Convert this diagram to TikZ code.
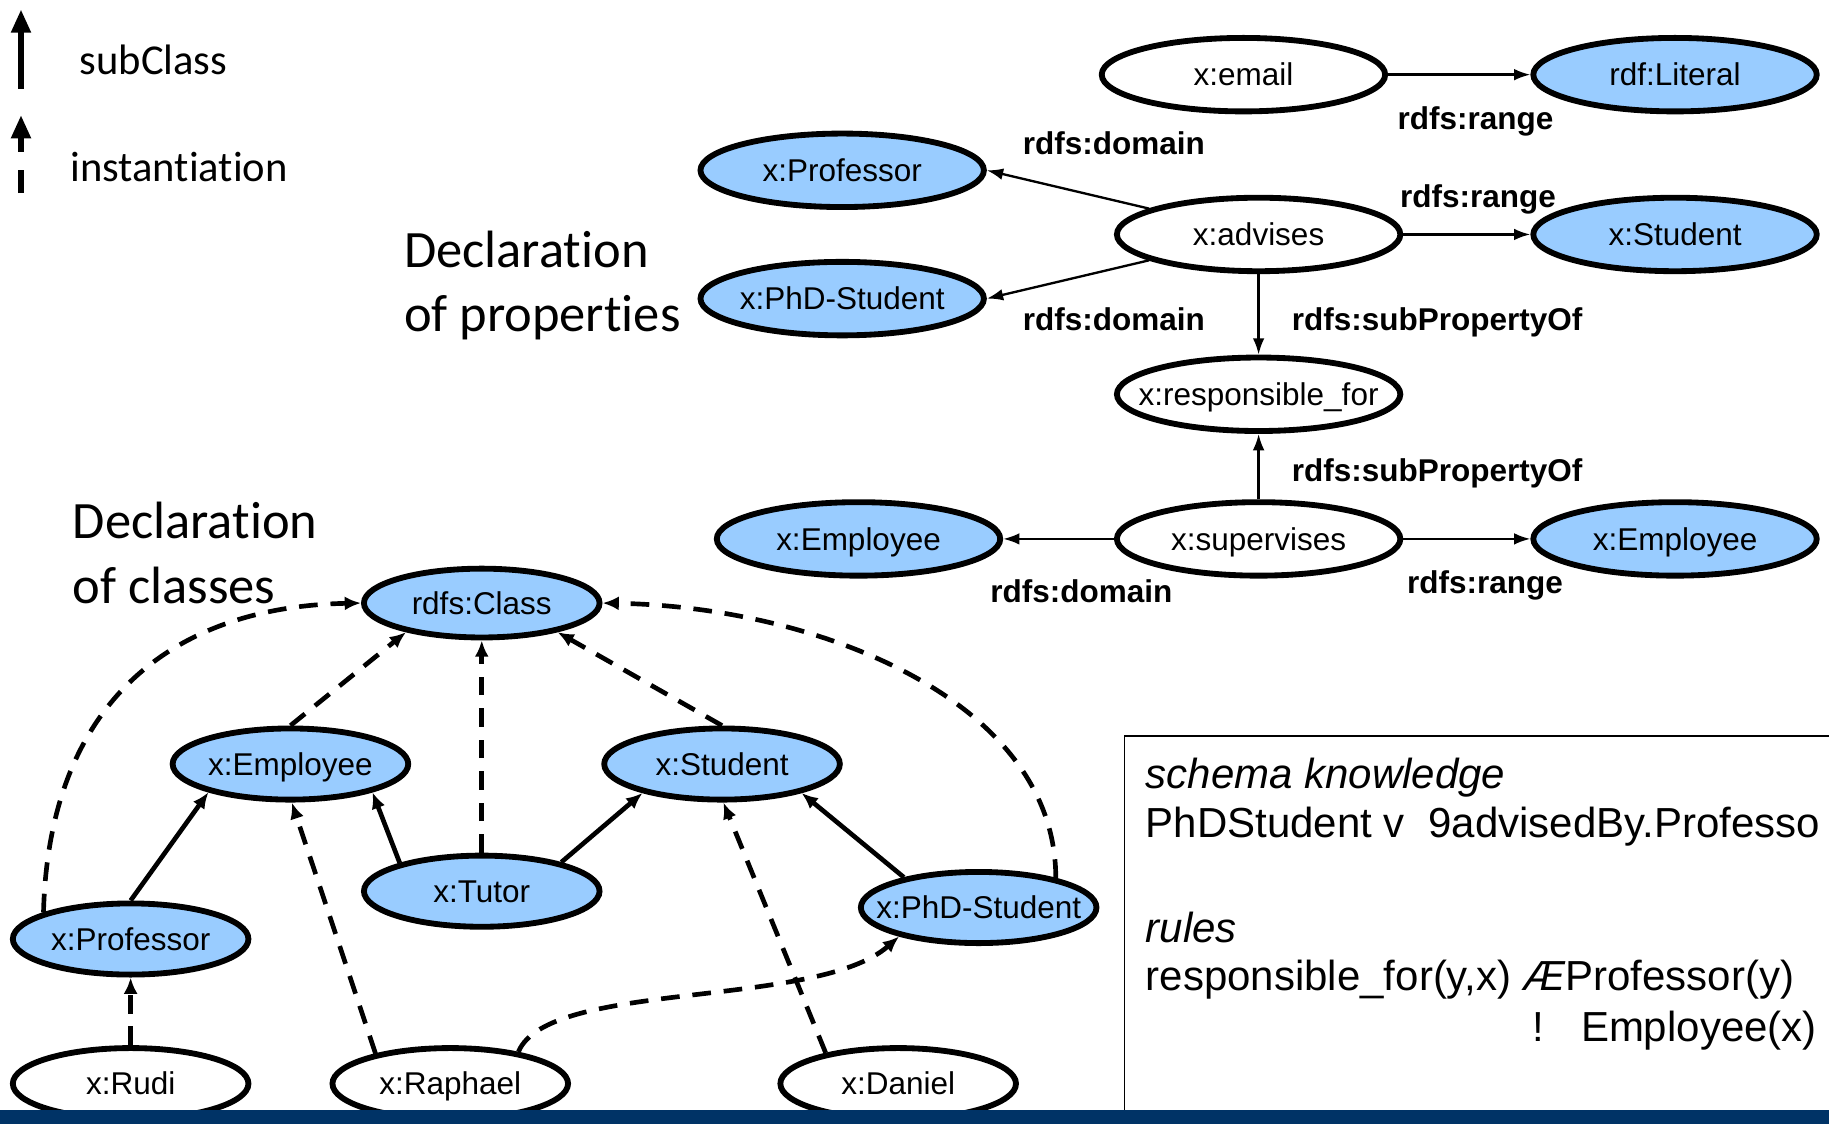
\documentclass[tikz,border=0pt]{standalone}
\usepackage{fontspec}
\setmainfont{Liberation Sans}
\newfontfamily\calibrifont[Ligatures=NoCommon,Contextuals=NoAlternate]{Carlito}
\usetikzlibrary{arrows.meta,shapes.geometric}
\definecolor{lblue}{RGB}{153,204,255}
\definecolor{navy}{RGB}{0,51,102}
\newcommand\zb[1]{\makebox[0pt]{#1}}
\begin{document}
\begin{tikzpicture}[x=0.5pt,y=-0.5pt,
 prop/.style={ellipse,draw,line width=2.5pt,fill=white,minimum width=121.5pt,minimum height=31.5pt,inner sep=0pt,text height=9.7pt,text depth=0pt,font=\fontsize{13.5}{16}\selectfont},
 cls/.style={prop,fill=lblue},
 bprop/.style={prop,minimum width=101pt,minimum height=30.5pt},
 bcls/.style={bprop,fill=lblue},
 rel/.style={line width=1pt,-{Latex[length=7pt,width=5pt]}},
 lbl/.style={font=\bfseries\fontsize{13.5}{16}\selectfont,inner sep=0pt,text height=9.7pt,text depth=0pt},
 sub/.style={line width=2pt,-{Latex[length=7pt,width=6pt]}},
 inst/.style={sub,dash pattern=on 8pt off 5.5pt},
 leg/.style={line width=2.9pt},
 legtxt/.style={anchor=base west,inner sep=0pt,font=\calibrifont\fontsize{18.25}{22}\selectfont},
 decl/.style={anchor=base west,inner sep=0pt,font=\calibrifont\fontsize{22.5}{27}\selectfont},
 kbtxt/.style={anchor=base west,inner sep=0pt,font=\fontsize{18}{21}\selectfont}
]
\useasboundingbox (0,0) rectangle (1568,964);
% legend
\coordinate (l1b) at (18,76); \coordinate (l1t) at (18,8);
\draw[leg,-{Triangle[length=10pt,width=8pt]}] (l1b) -- (l1t);
\coordinate (l2b) at (18,130); \coordinate (l2t) at (18,98.6);
\draw[leg,-{Triangle[length=10pt,width=8pt]}] (l2b) -- (l2t);
\coordinate (l3b) at (18,165.5); \coordinate (l3t) at (18,146);
\draw[leg] (l3b) -- (l3t);
\node[legtxt] (tsub) at (68,64) {subClass};
\node[legtxt] (tinst) at (60,156) {instantiation};
% headings
\node[decl] (dp1) at (346,229) {Declaration};
\node[decl] (dp2) at (346,284) {of properties};
\node[decl] (dc1) at (62,462) {Declaration};
\node[decl] (dc2) at (62,517) {of classes};
% properties
\node[prop] (email) at (1066,64) {\zb{x:email}};
\node[cls] (lit) at (1436,64) {\zb{rdf:Literal}};
\node[cls] (profT) at (722,146) {\zb{x:Professor}};
\node[prop] (adv) at (1079,201) {\zb{x:advises}};
\node[cls] (studT) at (1436,201) {\zb{x:Student}};
\node[cls] (phdT) at (722,256) {\zb{x:PhD-Student}};
\node[prop] (resp) at (1079,338) {\zb{x:responsible\_for}};
\node[prop] (sup) at (1079,462) {\zb{x:supervises}};
\node[cls] (empL) at (736,462) {\zb{x:Employee}};
\node[cls] (empR) at (1436,462) {\zb{x:Employee}};
\draw[rel] (email) -- (lit);
\draw[rel] (adv) -- (profT.east);
\draw[rel] (adv) -- (phdT.east);
\draw[rel] (adv) -- (studT);
\draw[rel] (adv) -- (resp);
\draw[rel] (sup) -- (resp);
\draw[rel] (sup) -- (empL);
\draw[rel] (sup) -- (empR);
\node[lbl] (r1) at (1265,101) {rdfs:range};
\node[lbl] (d1) at (955,123) {rdfs:domain};
\node[lbl] (r2) at (1267,168) {rdfs:range};
\node[lbl] (d2) at (955,274) {rdfs:domain};
\node[lbl] (s1) at (1232,274) {rdfs:subPropertyOf};
\node[lbl] (s2) at (1232,403) {rdfs:subPropertyOf};
\node[lbl] (d3) at (927,507) {rdfs:domain};
\node[lbl] (r3) at (1273,499) {rdfs:range};
% classes
\node[bcls,minimum height=29.5pt] (cls) at (413,517) {\zb{rdfs:Class}};
\node[bcls] (emp) at (249,655) {\zb{x:Employee}};
\node[bcls] (stu) at (619,655) {\zb{x:Student}};
\node[bcls] (tut) at (413,764) {\zb{x:Tutor}};
\node[bcls] (pro) at (112,805) {\zb{x:Professor}};
\node[bcls] (phd) at (839,778) {\zb{x:PhD-Student}};
\node[bprop] (rudi) at (112,929) {\zb{x:Rudi}};
\node[bprop] (rap) at (386,929) {\zb{x:Raphael}};
\node[bprop] (dan) at (770,929) {\zb{x:Daniel}};
\draw[sub] (pro.north) -- (emp.199);
\draw[sub] (tut.161) -- (emp.341);
\draw[sub] (tut.20) -- (stu.200);
\draw[sub] (phd.158) -- (stu.340);
\draw[inst] (emp.north) -- (cls.201);
\draw[inst] (tut.north) -- (cls.south);
\draw[inst] (stu.north) -- (cls.339);
\draw[inst] (pro.163) .. controls (42,600) and (150,520) .. (cls.west);
\draw[inst] (phd.21) .. controls (905,600) and (700,520) .. (cls.east);
\draw[inst] (rudi) -- (pro);
\draw[inst] (rap.158) -- (emp.272);
\draw[inst] (rap.25) .. controls (470,840) and (700,865) .. (phd.200);
\draw[inst] (dan.157) -- (stu.272);
% knowledge box
\draw[line width=0.8pt] (964,631) rectangle (1600,953);
\node[kbtxt] (k1) at (982,676) {\itshape schema knowledge};
\node[kbtxt] (k2) at (982,718) {PhDStudent v\ \ 9advisedBy.Professo};
\node[kbtxt] (k3) at (982,808) {\itshape rules};
\node[kbtxt] (k4) at (982,849) {responsible\_for(y,x) \textit{Æ}Professor(y)};
\node[kbtxt] (k5) at (1313,893) {!\hspace{16pt}Employee(x)};
\fill[navy] (0,952) rectangle (1568,964);
\end{tikzpicture}
\end{document}
